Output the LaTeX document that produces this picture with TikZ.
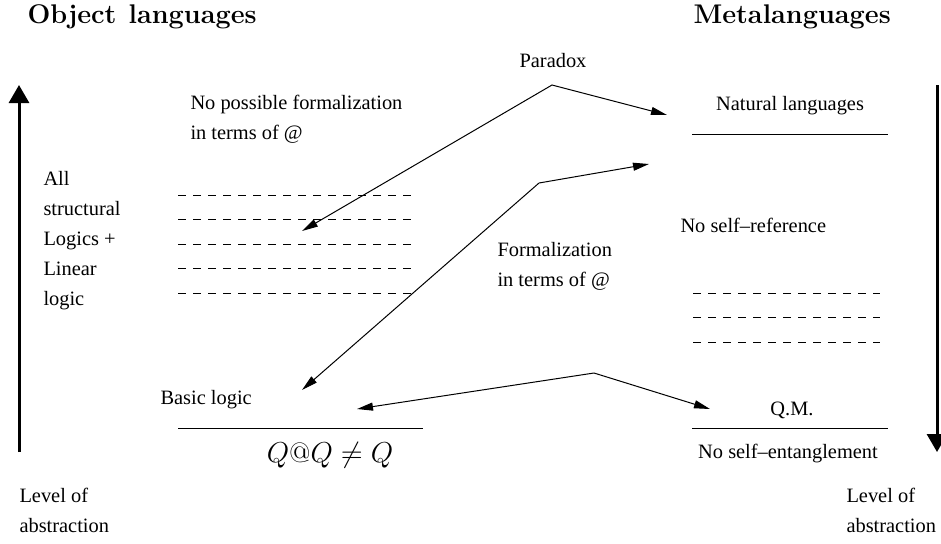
\documentclass[tikz,border=0pt]{standalone}
\usepackage{fontspec}
\newfontfamily\figfont{Liberation Serif}
\usetikzlibrary{arrows.meta}
\tikzset{every picture/.style={line width=0.5pt}}
\tikzset{
    langtext/.style={font=\figfont\fontsize{10.2}{15}\selectfont, inner sep=0pt, align=left},
    headtext/.style={font=\bfseries\fontsize{13.5}{15}\selectfont, inner sep=0pt},
    mathtext/.style={font=\fontsize{14}{15}\selectfont, inner sep=0pt},
    sublevel/.style={dash pattern=on 4pt off 3.5pt},
    linkarrow/.style={{Triangle[length=8pt,width=4pt]}-{Triangle[length=8pt,width=4pt]}},
    abstrarrow/.style={line width=1.5pt, -{Triangle[length=9pt,width=10pt]}}
}

\begin{document}
\begin{tikzpicture}[x=0.5pt, y=-0.5pt]
    \useasboundingbox (0,0) rectangle (941,543);
    % headings
    \node[headtext, anchor=base west] (objhead) at (27,23) {Object\hspace{1pt} languages};
    \node[headtext, anchor=base west] (metahead) at (693,23) {Metalanguages};
    % object side (multi-line nodes: base = last line)
    \node[langtext, anchor=base west] (nopossible) at (190,139) {No possible formalization\\in terms of @};
    \node[langtext, anchor=base west] (structural) at (43,305) {All\\structural\\Logics +\\Linear\\logic};
    \node[langtext, anchor=base west] (basic) at (160,404) {Basic logic};
    \node[mathtext, anchor=base] (selfat) at (330,462) {$Q@Q \neq Q$};
    \node[langtext, anchor=base west] (levelL) at (19,532) {Level of\\abstraction};
    % meta side
    \node[langtext, anchor=base] (paradox) at (553,67) {Paradox};
    \node[langtext, anchor=base] (natural) at (790,110) {Natural languages};
    \node[langtext, anchor=base west] (noref) at (680,232) {No self–reference};
    \node[langtext, anchor=base west] (formal) at (497,286) {Formalization\\in terms of @};
    \node[langtext, anchor=base] (qm) at (792,415) {Q.M.};
    \node[langtext, anchor=base] (noent) at (788,458) {No self–entanglement};
    \node[langtext, anchor=base west] (levelR) at (846,532) {Level of\\abstraction};
    % level lines
    \draw (692,134) -- (888,134);
    \draw (178,428) -- (423,428);
    \draw (692,428) -- (888,428);
    \draw[sublevel] (178,195) -- (415,195);
    \draw[sublevel] (178,219) -- (415,219);
    \draw[sublevel] (178,244) -- (415,244);
    \draw[sublevel] (178,268) -- (415,268);
    \draw[sublevel] (178,293) -- (415,293);
    \draw[sublevel] (693,293) -- (880,293);
    \draw[sublevel] (693,317) -- (880,317);
    \draw[sublevel] (693,342) -- (880,342);
    % abstraction arrows
    \coordinate (upfoot) at (19,452);
    \coordinate (uptip) at (19,85);
    \coordinate (downfoot) at (937,85);
    \coordinate (downtip) at (937,452);
    \draw[abstrarrow] (upfoot) -- (uptip);
    \draw[abstrarrow] (downfoot) -- (downtip);
    % links between levels
    \coordinate (parL) at (302,231);
    \coordinate (parM) at (552,85);
    \coordinate (parR) at (667,115);
    \coordinate (forL) at (302,390);
    \coordinate (forM) at (539,183);
    \coordinate (forR) at (649,164);
    \coordinate (qmL) at (357,409);
    \coordinate (qmM) at (594,373);
    \coordinate (qmR) at (710,409);
    \draw[linkarrow] (parL) -- (parM) -- (parR);
    \draw[linkarrow] (forL) -- (forM) -- (forR);
    \draw[linkarrow] (qmL) -- (qmM) -- (qmR);
\end{tikzpicture}
\end{document}
